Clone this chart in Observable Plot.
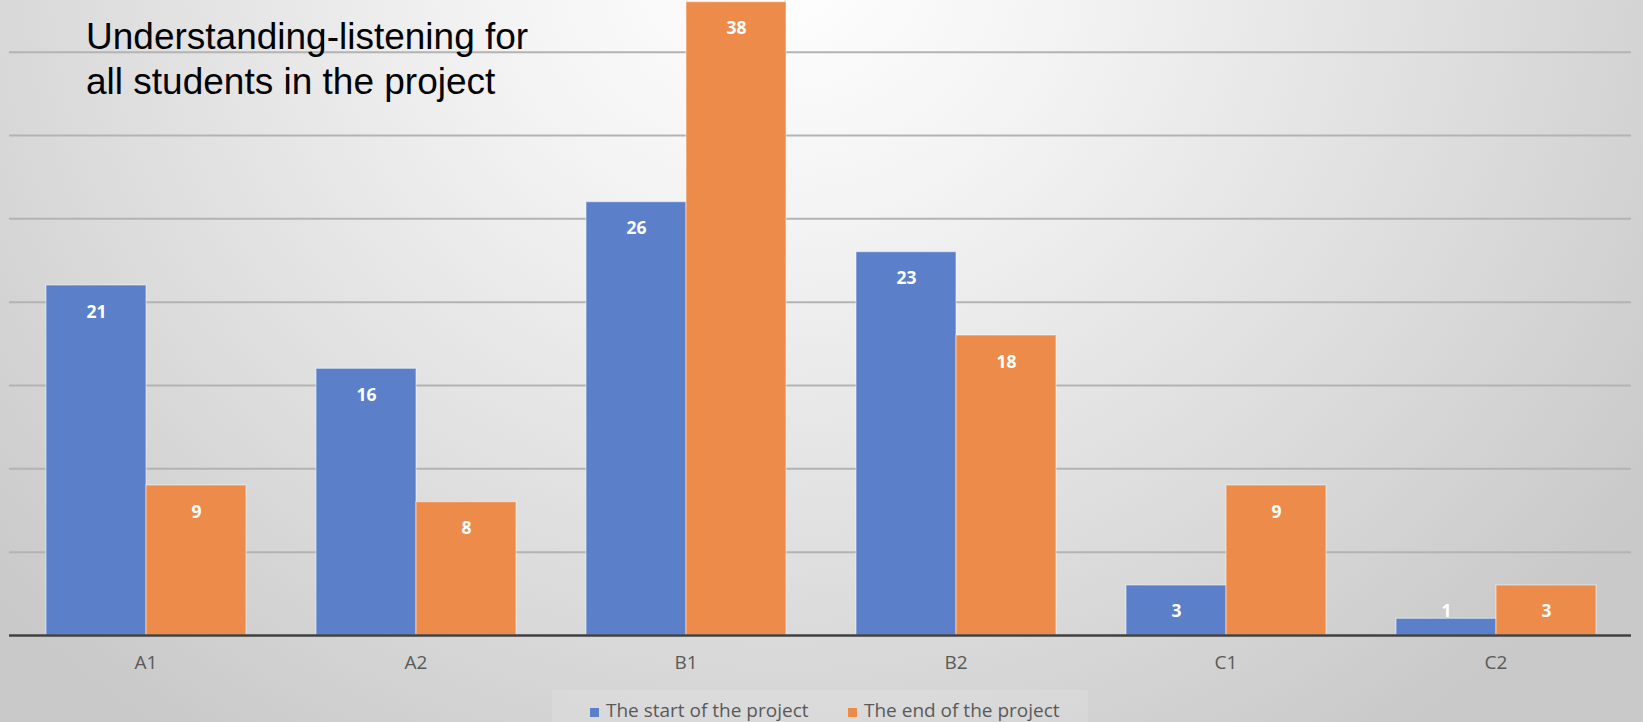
<!DOCTYPE html>
<html>
<head>
<meta charset="utf-8">
<script src="https://cdn.jsdelivr.net/npm/d3@7"></script>
<script src="https://cdn.jsdelivr.net/npm/@observablehq/plot@0.6"></script>
<style>
  html, body { margin: 0; padding: 0; }
  #wrap {
    position: relative; width: 1643px; height: 722px; overflow: hidden;
    background: radial-gradient(ellipse 1050px 950px at 780px -40px, #ffffff 0%, #f3f3f3 28%, #dcdcdc 68%, #c9c9c9 100%);
  }
  .layer { position: absolute; left: 0; top: 0; }
  #title {
    position: absolute; left: 86px; top: 14px;
    font-family: "Liberation Sans", Arial, sans-serif; font-size: 37px; line-height: 45px; color: #000;
  }
  #legendBox {
    position: absolute; left: 552px; top: 690px; width: 536px; height: 32px;
    background: rgba(255,255,255,0.12);
  }
  .li { position: absolute; top: 698px; font-family: "Open Sans", sans-serif; font-size: 19px; line-height: 24px; color: #595959; white-space: nowrap; }
  .sw { display: inline-block; width: 9px; height: 9px; margin-right: 7px; vertical-align: 0px; }
</style>
</head>
<body>
<div id="wrap">
  <div id="legendBox"></div>
  <div id="grid" class="layer"></div>
  <div id="bars" class="layer"></div>
  <div id="base" class="layer"></div>
  <div id="title">Understanding-listening for<br>all students in the project</div>
</div>
<script>
const categories = ["A1", "A2", "B1", "B2", "C1", "C2"];
const series = ["The start of the project", "The end of the project"];
const startValues = [21, 16, 26, 23, 3, 1];
const endValues = [9, 8, 38, 18, 9, 3];
const gridTicks = [5, 10, 15, 20, 25, 30, 35];
const colors = ["#5b80c9", "#ed8b4a"];

const data = categories.flatMap((c, i) => [
  {category: c, series: series[0], value: startValues[i]},
  {category: c, series: series[1], value: endValues[i]}
]);

const frame = {
  width: 1643,
  height: 722,
  marginTop: 0,
  marginBottom: 87,
  marginLeft: 9,
  marginRight: 12,
  style: {background: "transparent", fontFamily: "Open Sans", color: "#595959", overflow: "visible"},
  y: {domain: [0, 38.1], axis: null},
  x: {axis: null}
};

// layer 1: horizontal gridlines across the full plot width
const gridPlot = Plot.plot({
  ...frame,
  marks: [Plot.ruleY(gridTicks, {stroke: "#b3b3b3", strokeWidth: 2})]
});

// layer 2: clustered bars, faceted by category
const barPlot = Plot.plot({
  ...frame,
  fx: {domain: categories, paddingInner: 0.256, paddingOuter: 0.128, label: null},
  x: {domain: series, padding: 0, axis: null},
  color: {domain: series, range: colors},
  marks: [
    Plot.barY(data, {fx: "category", x: "series", y: "value", fill: "series", stroke: "#ffffff", strokeOpacity: 0.45, strokeWidth: 1.2}),
    Plot.text(data, {fx: "category", x: "series", y: d => Math.max(d.value - 1.6, 1.45), text: "value", fill: "white", fontWeight: "bold", fontSize: 17.5, fontFamily: "Open Sans"}),
    Plot.axisFx({anchor: "bottom", tickSize: 0, tickPadding: 20, label: null, fontSize: 19})
  ]
});

// layer 3: category axis baseline
const basePlot = Plot.plot({
  ...frame,
  marks: [Plot.ruleY([0], {stroke: "#404040", strokeWidth: 2.5})]
});

document.getElementById("grid").appendChild(gridPlot);
document.getElementById("bars").appendChild(barPlot);
document.getElementById("base").appendChild(basePlot);

// legend built from the series and color arrays
const wrap = document.getElementById("wrap");
const legendX = [590, 848];
series.forEach((s, i) => {
  const item = document.createElement("div");
  item.className = "li";
  item.style.left = legendX[i] + "px";
  const sw = document.createElement("span");
  sw.className = "sw";
  sw.style.background = colors[i];
  item.appendChild(sw);
  item.appendChild(document.createTextNode(s));
  wrap.appendChild(item);
});
</script>
</body>
</html>
